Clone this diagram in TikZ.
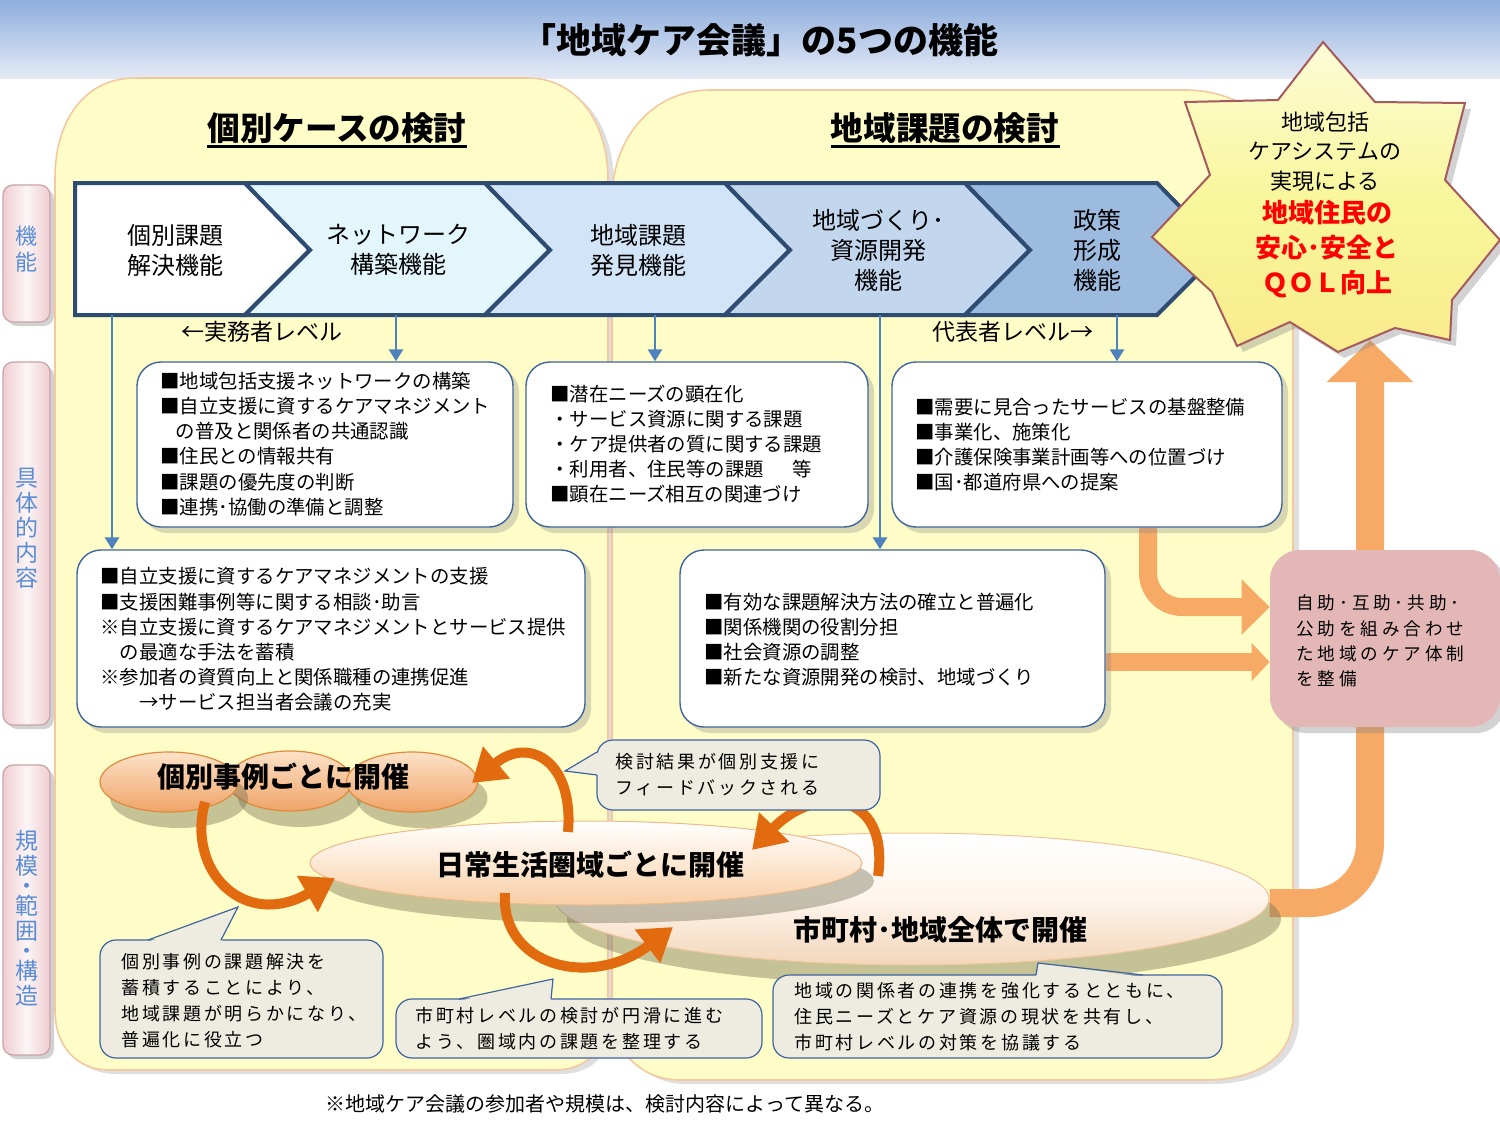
\documentclass[tikz,border=0pt]{standalone}
\usepackage{fontspec}
\setmainfont{Noto Sans CJK JP}
\newfontfamily\jpsp[LetterSpace=15]{Noto Sans CJK JP}
\newfontfamily\jpspw[LetterSpace=22]{Noto Sans CJK JP}
\usetikzlibrary{shapes.geometric,arrows.meta,shadows,fit}
\pgfdeclarelayer{back}
\pgfdeclarelayer{mid}
\pgfsetlayers{back,mid,main}
\definecolor{bandtop}{HTML}{8FAEDD}
\definecolor{bandbot}{HTML}{E3EAF6}
\definecolor{panelfill}{HTML}{FFFDC7}
\definecolor{panelline}{HTML}{F5C9A0}
\definecolor{sidepink}{HTML}{EFCDD1}
\definecolor{sideline}{HTML}{C9A3A7}
\definecolor{sideblue}{HTML}{5B8DD6}
\definecolor{chevline}{HTML}{2E4C72}
\definecolor{chevA}{HTML}{FFFFFF}
\definecolor{chevB}{HTML}{E3F6FB}
\definecolor{chevC}{HTML}{D2E4F7}
\definecolor{chevD}{HTML}{C2D7EE}
\definecolor{chevE}{HTML}{9CBBDF}
\definecolor{arrowblue}{HTML}{4F81BD}
\definecolor{boxline}{HTML}{3F64A0}
\definecolor{lorange}{HTML}{F7AA66}
\definecolor{dorange}{HTML}{E26B0F}
\definecolor{pinkbox}{HTML}{E4B7B7}
\definecolor{callfill}{HTML}{EEECE1}
\definecolor{starfill}{HTML}{F8F79C}
\definecolor{starline}{HTML}{A65A5C}
\definecolor{redtext}{HTML}{FF0000}
\definecolor{ellAtop}{HTML}{FCE2C8}
\definecolor{ellAbot}{HTML}{EFA468}
\definecolor{ellAline}{HTML}{E08A3C}
\definecolor{ellBbot}{HTML}{F8CDA4}
\definecolor{ellCbot}{HTML}{F3D6BA}
\definecolor{shadowc}{HTML}{6E6C4E}
\begin{document}
\begin{tikzpicture}[x=0.5pt,y=-0.5pt,
  panel/.style={fill=panelfill, draw=panelline, line width=0.8pt,
    drop shadow={opacity=0.25, shadow xshift=3pt, shadow yshift=-2pt}},
  sidebar/.style={draw=sideline, line width=0.6pt, rounded corners=5pt, inner sep=0pt,
    left color=sidepink, right color=sidepink, middle color=white!80!sidepink,
    drop shadow={opacity=0.35, shadow xshift=2pt, shadow yshift=-2pt}},
  sidetext/.style={text=sideblue, align=center, inner sep=0pt},
  chev/.style={draw=chevline, line width=2pt, line join=miter},
  chevtext/.style={font=\fontsize{12}{15}\selectfont, align=center, inner sep=0pt},
  blueline/.style={draw=arrowblue, line width=1.4pt, -{Triangle[length=6pt,width=7pt]}},
  cbox/.style={draw=boxline, line width=0.7pt, fill=white, rounded corners=12pt, inner sep=0pt,
    drop shadow={opacity=0.3, shadow xshift=3pt, shadow yshift=-3pt}},
  fbox/.style={fill=pinkbox, rounded corners=15pt, inner sep=0pt,
    drop shadow={opacity=0.35, shadow xshift=3pt, shadow yshift=-3pt}},
  ctext/.style={font=\fontsize{9.7}{12.6}\selectfont, align=left, inner sep=0pt, anchor=west},
  ftext/.style={font=\jpspw\fontsize{8.8}{12.7}\selectfont, align=left, inner sep=0pt, anchor=west},
  levtext/.style={font=\fontsize{11.5}{13}\selectfont, inner sep=0pt},
  header/.style={font=\fontsize{16.3}{18}\selectfont\bfseries, inner sep=0pt},
  bigarrow/.style={draw=lorange, line width=14pt, rounded corners=30pt, -{Triangle[length=21pt,width=42pt]}},
  smallarrow/.style={draw=lorange, line width=9pt, rounded corners=17pt},
  curv/.style={draw=dorange, line width=5pt, -{Triangle[length=16pt,width=20pt]}},
  ellA/.style={ellipse, draw=ellAline, line width=0.6pt, top color=ellAtop, bottom color=ellAbot,
    inner sep=0pt, minimum height=30pt,
    drop shadow={opacity=0.4, fill=shadowc, shadow xshift=5pt, shadow yshift=-8pt}},
  ellB/.style={ellipse, draw=ellAline!60, line width=0.5pt, top color=white, bottom color=ellBbot,
    middle color=ellAtop!80!white, inner sep=0pt,
    drop shadow={opacity=0.4, fill=shadowc, shadow xshift=6pt, shadow yshift=-9pt}},
  ellC/.style={ellipse, draw=ellAline!50, line width=0.5pt, top color=white, bottom color=ellCbot,
    middle color=ellAtop!35!white, inner sep=0pt,
    drop shadow={opacity=0.4, fill=shadowc, shadow xshift=6pt, shadow yshift=-10pt}},
  elltext/.style={font=\fontsize{14}{16}\selectfont\bfseries, inner sep=0pt},
  callout/.style={fill=callfill, draw=boxline, line width=0.6pt, rounded corners=8pt},
  callptr/.style={draw=boxline, line width=0.6pt},
  calltext/.style={font=\jpsp\fontsize{9}{13}\selectfont, align=left, inner sep=0pt, anchor=west}
]
\useasboundingbox (0,0) rectangle (1500,1125);
\begin{pgfonlayer}{back}
\fill[white] (0,0) rectangle (1500,1125);
\shade[top color=bandtop, bottom color=bandbot] (0,0) rectangle (1500,78);
% panels
\draw[panel] (135,78) -- (528,78) .. controls (575,78) and (608,120) .. (608,180)
  -- (608,1010) .. controls (608,1045) and (590,1070) .. (555,1070)
  -- (110,1070) .. controls (75,1070) and (55,1045) .. (55,1010)
  -- (55,178) .. controls (55,120) and (85,78) .. (135,78) -- cycle;
\draw[panel] (710,90) -- (1185,90) .. controls (1245,90) and (1293,130) .. (1293,190)
  -- (1293,1015) .. controls (1293,1055) and (1260,1080) .. (1205,1080)
  -- (680,1080) .. controls (640,1080) and (612,1050) .. (612,1010)
  -- (612,200) .. controls (612,135) and (655,90) .. (710,90) -- cycle;
\end{pgfonlayer}

% title
\node[font=\fontsize{17.5}{20}\selectfont\bfseries, inner sep=0pt] (title) at (760,40) {「地域ケア会議」の5つの機能};

% headers
\node[header] (h1) at (337,128) {個別ケースの検討};
\draw[line width=1.5pt] ([yshift=-3pt]h1.base west) -- ([yshift=-3pt]h1.base east);
\node[header] (h2) at (945,128) {地域課題の検討};
\draw[line width=1.5pt] ([yshift=-3pt]h2.base west) -- ([yshift=-3pt]h2.base east);

% side bars
\node[sidebar, fit={(3,185)(50,322)}] (sb1) {};
\node[sidetext, font=\fontsize{11}{13}\selectfont] at (27,249) {機\\能};
\node[sidebar, fit={(3,362)(50,725)}] (sb2) {};
\node[sidetext, font=\fontsize{11.5}{12.5}\selectfont] at (27,528) {具\\体\\的\\内\\容};
\node[sidebar, fit={(3,765)(50,1055)}] (sb3) {};
\node[sidetext, font=\fontsize{11.5}{12.5}\selectfont] at (27,918) {規\\模\\[-2.5pt]・\\[-2.5pt]範\\囲\\[-2.5pt]・\\[-2.5pt]構\\造};

% chevrons
\draw[chev, fill=chevA] (75,183) -- (245,183) -- (310,250) -- (245,315) -- (75,315) -- cycle;
\draw[chev, fill=chevB] (245,183) -- (485,183) -- (550,250) -- (485,315) -- (245,315) -- (310,250) -- cycle;
\draw[chev, fill=chevC] (485,183) -- (725,183) -- (790,250) -- (725,315) -- (485,315) -- (550,250) -- cycle;
\draw[chev, fill=chevD] (725,183) -- (965,183) -- (1030,250) -- (965,315) -- (725,315) -- (790,250) -- cycle;
\draw[chev, fill=chevE] (965,183) -- (1157,183) -- (1222,250) -- (1157,315) -- (965,315) -- (1030,250) -- cycle;
\node[chevtext] (t1) at (175,250) {個別課題\\解決機能};
\node[chevtext] (t2) at (398,250) {ネットワーク\\構築機能};
\node[chevtext] (t3) at (638,250) {地域課題\\発見機能};
\node[chevtext] (t4) at (878,250) {地域づくり･\\資源開発\\機能};
\node[chevtext] (t5) at (1097,250) {政策\\形成\\機能};
\coordinate (s1) at (112,315);
\coordinate (s2) at (396,315);
\coordinate (s3) at (655,315);
\coordinate (s4) at (880,315);
\coordinate (s5) at (1117,315);

% level labels
\node[levtext] (lv1) at (262,332) {←実務者レベル};
\node[levtext] (lv2) at (1013,332) {代表者レベル→};

% content boxes
\node[cbox, fit={(137,362)(513,527)}] (boxA) {};
\node[cbox, fit={(526,362)(868,527)}] (boxB) {};
\node[cbox, fit={(892,362)(1282,527)}] (boxC) {};
\node[cbox, fit={(77,550)(585,727)}] (boxD) {};
\node[cbox, fit={(680,550)(1105,727)}] (boxE) {};
\node[fbox, fit={(1270,550)(1500,727)}] (boxF) {};

\node[ctext] (txA) at (160,444) {■地域包括支援ネットワークの構築\\■自立支援に資するケアマネジメント\\\hspace*{0.8em}の普及と関係者の共通認識\\■住民との情報共有\\■課題の優先度の判断\\■連携･協働の準備と調整};
\node[ctext] (txB) at (550,444) {■潜在ニーズの顕在化\\・サービス資源に関する課題\\・ケア提供者の質に関する課題\\・利用者、住民等の課題\hspace{1.5em}等\\■顕在ニーズ相互の関連づけ};
\node[ctext] (txC) at (915,444.5) {■需要に見合ったサービスの基盤整備\\■事業化、施策化\\■介護保険事業計画等への位置づけ\\■国･都道府県への提案};
\node[ctext] (txD) at (100,639.5) {■自立支援に資するケアマネジメントの支援\\■支援困難事例等に関する相談･助言\\※自立支援に資するケアマネジメントとサービス提供\\\hspace*{1em}の最適な手法を蓄積\\※参加者の資質向上と関係職種の連携促進\\\hspace*{2em}→サービス担当者会議の充実};
\node[ctext] (txE) at (704,639.5) {■有効な課題解決方法の確立と普遍化\\■関係機関の役割分担\\■社会資源の調整\\■新たな資源開発の検討、地域づくり};
\node[ftext] (txF) at (1296,641) {自助･互助･共助･\\公助を組み合わせ\\た地域のケア体制\\を整備};

% blue connectors
\draw[blueline] (s1) -- (s1 |- boxD.north);
\draw[blueline] (s2) -- (s2 |- boxA.north);
\draw[blueline] (s3) -- (s3 |- boxB.north);
\draw[blueline] (s4) -- (s4 |- boxE.north);
\draw[blueline] (s5) -- (s5 |- boxC.north);

% ellipses
\node[ellC, minimum width=357pt, minimum height=66pt] (e3) at (912,899) {};
\node[ellB, minimum width=276pt, minimum height=42pt] (e2) at (586,863) {};
\node[ellA, minimum width=62pt] (e1b) at (290,781) {};
\node[ellA, minimum width=69pt] (e1a) at (169,782) {};
\node[ellA, minimum width=65.5pt] (e1c) at (412,782) {};
\node[elltext] (e1t) at (283,777) {個別事例ごとに開催};
\node[elltext] (e2t) at (590,865) {日常生活圏域ごとに開催};
\node[elltext] (e3t) at (940,930) {市町村･地域全体で開催};

% star
\coordinate (goal) at (1370,340);
\path[draw=starline, line width=1pt, top color=starfill!40!white, bottom color=starfill!90!orange,
  middle color=starfill, drop shadow={opacity=0.35, shadow xshift=3pt, shadow yshift=-3pt}]
  (1323,42) -- (1375,102) -- (1465,103) -- (1445,180) -- (1500,240) -- (1452,300)
  -- (1450,340) -- (1395,328) -- (1338,352) -- (1290,322) -- (1237,346) -- (1212,292)
  -- (1152,237) -- (1210,175) -- (1185,102) -- (1278,100) -- cycle;
\node[font=\fontsize{11}{14.75}\selectfont, align=center, inner sep=0pt] (st1) at (1325,151.5) {地域包括\\ケアシステムの\\実現による};
\node[font=\fontsize{13}{17.5}\selectfont\bfseries, text=redtext, align=center, inner sep=0pt] (st2) at (1327,249) {地域住民の\\安心･安全と\\ＱＯＬ向上};

% light orange arrows (behind)
\begin{pgfonlayer}{mid}
\draw[bigarrow] ([yshift=-2pt]e3.east) -| (goal);
\draw[smallarrow, -{Triangle[length=14pt,width=27pt]}] ([xshift=30.5pt]boxC.south) |- ([yshift=15.75pt]boxF.west);
\draw[smallarrow, -{Triangle[length=9pt,width=18.5pt]}] ([yshift=-11.75pt]boxE.east) -- ([yshift=-11.75pt]boxF.west);
\end{pgfonlayer}

% orange curved connectors
\coordinate (a1s) at (568,832);
\coordinate (a1e) at (472,783);
\draw[curv] (a1s) .. controls (574,760) and (528,736) .. (a1e);
\coordinate (a2s) at (205,802);
\coordinate (a2e) at (335,878);
\draw[curv] (a2s) .. controls (186,872) and (245,930) .. (a2e);
\coordinate (a3s) at (505,893);
\coordinate (a3e) at (673,927);
\draw[curv] (a3s) .. controls (500,965) and (590,990) .. (a3e);
\coordinate (a4s) at (878,876);
\coordinate (a4e) at (752,850);
\draw[curv] (a4s) .. controls (890,790) and (815,785) .. (a4e);

% callouts
\draw[callout] (597,740) rectangle (880,810);
\fill[callfill] (599,752) -- (565,771) -- (599,775) -- cycle;
\draw[callptr] (597,752) -- (565,771) -- (597,775);
\node[calltext] (ct1) at (615,775) {検討結果が個別支援に\\フィードバックされる};

\draw[callout] (100,940) rectangle (383,1058);
\fill[callfill] (148,942) -- (238,907) -- (221,942) -- cycle;
\draw[callptr] (148,940) -- (238,907) -- (221,940);
\node[calltext] (ct2) at (121,1000.5) {個別事例の課題解決を\\蓄積することにより、\\地域課題が明らかになり、\\普遍化に役立つ};

\draw[callout] (396,999) rectangle (762,1058);
\fill[callfill] (459,1001) -- (553,979) -- (551,1001) -- cycle;
\draw[callptr] (459,999) -- (553,979) -- (551,999);
\node[calltext] (ct3) at (415,1029) {市町村レベルの検討が円滑に進む\\よう、圏域内の課題を整理する};

\draw[callout] (773,975) rectangle (1222,1058);
\fill[callfill] (1036,977) -- (1038,963) -- (1143,977) -- cycle;
\draw[callptr] (1036,975) -- (1038,963) -- (1143,975);
\node[calltext] (ct4) at (794,1017) {地域の関係者の連携を強化するとともに、\\住民ニーズとケア資源の現状を共有し、\\市町村レベルの対策を協議する};

% footnote
\node[font=\fontsize{10}{12}\selectfont, inner sep=0pt] (foot) at (605,1104) {※地域ケア会議の参加者や規模は、検討内容によって異なる。};
\end{tikzpicture}
\end{document}
